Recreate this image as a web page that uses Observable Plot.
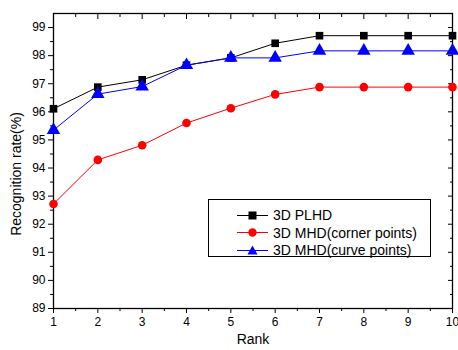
<!DOCTYPE html>
<html><head><meta charset="utf-8">
<script src="https://cdn.jsdelivr.net/npm/d3@7"></script>
<script src="https://cdn.jsdelivr.net/npm/@observablehq/plot@0.6"></script>
<style>
body{margin:0;background:#fff;font-family:"Liberation Sans",Arial,sans-serif;}
#wrap{position:relative;width:458px;height:350px;}
#legend{position:absolute;left:208px;top:199px;width:223px;height:58px;border:1px solid #000;box-sizing:border-box;background:#fff;font-size:14px;}
.row{position:absolute;left:28px;height:16px;display:flex;align-items:center;}
.row span{margin-left:4px;white-space:nowrap;}
</style></head>
<body><div id="wrap"><div id="legend"></div></div>
<script>
const ranks = [1,2,3,4,5,6,7,8,9,10];
const plhd = [96.11,96.88,97.14,97.66,97.92,98.44,98.71,98.71,98.71,98.71];
const corner = [92.72,94.29,94.81,95.6,96.13,96.62,96.88,96.88,96.88,96.88];
const curve = [95.35,96.63,96.9,97.66,97.92,97.92,98.17,98.17,98.17,98.17];
const seriesNames = ["3D PLHD","3D MHD(corner points)","3D MHD(curve points)"];
const colors = ["#000000","#ff0000","#0000ff"];
const symbols = ["square","circle","triangle"];
const yTicks = [89,90,91,92,93,94,95,96,97,98,99];
const xTicks = ranks;

const series = [plhd, corner, curve];
const data = [];
series.forEach((vals, s) => vals.forEach((v, i) => data.push({rank: ranks[i], value: v, s})));

const yMinor = d3.range(89.5, 99.5, 1);
const xMinor = d3.range(1.5, 10, 1);

const marks = [
  Plot.frame({stroke:"#000", strokeWidth:1.3}),
  Plot.axisY({ticks: yTicks, tickSize: 5, tickPadding: 3, fontSize: 12, label: null, tickFormat: d=>d}),
  Plot.axisY({ticks: yMinor, tickSize: 3, text: null, label: null}),
  Plot.axisY({ticks: yTicks, anchor: "right", tickSize: -5, text: null, label: null}),
  Plot.axisY({ticks: yMinor, anchor: "right", tickSize: -3, text: null, label: null}),
  Plot.axisX({ticks: xTicks, tickSize: 5, tickPadding: 4, fontSize: 12, label: null, tickFormat: d=>d}),
  Plot.axisX({ticks: xMinor, tickSize: 3, text: null, label: null}),
  Plot.axisX({ticks: xTicks, anchor: "top", tickSize: -5, text: null, label: null}),
  Plot.axisX({ticks: xMinor, anchor: "top", tickSize: -3, text: null, label: null}),
];
series.forEach((vals, s) => {
  const d = data.filter(e => e.s === s);
  marks.push(Plot.line(d, {x:"rank", y:"value", stroke: colors[s], strokeWidth: 1}));
  marks.push(Plot.dot(d, {x:"rank", y:"value", fill: colors[s], stroke: "none", symbol: symbols[s], r: s===2 ? 5 : 4.3}));
});

const chart = Plot.plot({
  width: 458, height: 350,
  marginLeft: 53, marginRight: 6, marginTop: 13, marginBottom: 42,
  style: {fontFamily: '"Liberation Sans",Arial,sans-serif', background: "#fff", color: "#000"},
  x: {domain: [1,10], label: null},
  y: {domain: [89,99.5], label: null},
  marks: [
    ...marks,
    Plot.text(["Rank"], {frameAnchor: "bottom", dy: 35, fontSize: 14, fill: "#000"}),
    Plot.text(["Recognition rate(%)"], {frameAnchor: "left", textAnchor: "middle", dx: -37, dy: 13, rotate: -90, fontSize: 14, fill: "#000"})
  ]
});
document.getElementById("wrap").prepend(chart);
chart.style.position = "absolute"; chart.style.left = "0"; chart.style.top = "0";

const leg = document.getElementById("legend");
seriesNames.forEach((name, s) => {
  const row = document.createElement("div");
  row.className = "row";
  row.style.top = (7 + s*17.5) + "px";
  const shape = s===0 ? `<rect x="11.5" y="3.5" width="8" height="8" fill="${colors[s]}"/>`
    : s===1 ? `<circle cx="15.5" cy="7.5" r="4.2" fill="${colors[s]}"/>`
    : `<path d="M15.5 2.5 L20.5 11.5 L10.5 11.5 Z" fill="${colors[s]}"/>`;
  row.innerHTML = `<svg width="32" height="15"><line x1="0" x2="31" y1="7.5" y2="7.5" stroke="${colors[s]}" stroke-width="1"/>${shape}</svg><span>${name}</span>`;
  leg.appendChild(row);
});
</script></body></html>
